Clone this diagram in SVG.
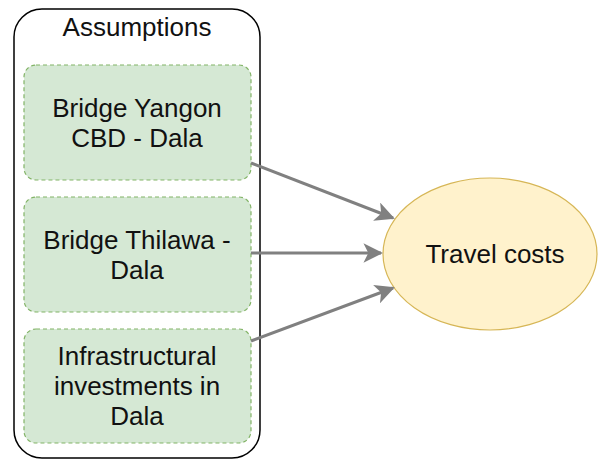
<svg xmlns="http://www.w3.org/2000/svg" width="598" height="460" viewBox="0 0 598 460">
<style>
text{font-family:"Liberation Sans",Arial,sans-serif;font-size:26px;fill:#111;text-anchor:middle}
.box{fill:#d5e8d4;stroke:#82b366;stroke-width:1.2;stroke-dasharray:4 3}
.edge{stroke:#808080;stroke-width:3;fill:none}
</style>
<defs>
<marker id="ah" viewBox="0 0 10 10" refX="9" refY="5" markerWidth="6.5" markerHeight="6.5" markerUnits="strokeWidth" orient="auto">
<path d="M0,0 L10,5 L0,10 L2.5,5 Z" fill="#808080"/>
</marker>
</defs>
<g id="assumptions">
<rect x="14" y="9" width="246" height="449" rx="28" fill="#fff" stroke="#000" stroke-width="1.5"/>
<text x="137" y="36">Assumptions</text>
</g>
<g id="bridge-yangon">
<rect class="box" x="24" y="65" width="227" height="115" rx="12"/>
<text x="137" y="117">Bridge Yangon</text>
<text x="137" y="147">CBD - Dala</text>
</g>
<g id="bridge-thilawa">
<rect class="box" x="24" y="197" width="227" height="115" rx="12"/>
<text x="137" y="249">Bridge Thilawa -</text>
<text x="137" y="279">Dala</text>
</g>
<g id="infrastructural">
<rect class="box" x="24" y="329" width="227" height="114" rx="12"/>
<text x="137" y="365">Infrastructural</text>
<text x="137" y="395">investments in</text>
<text x="137" y="425">Dala</text>
</g>
<g id="travel-costs">
<ellipse cx="490" cy="254" rx="107" ry="76" fill="#fff2cc" stroke="#d6b656" stroke-width="1.2"/>
<text x="495" y="263">Travel costs</text>
</g>
<g id="connectors">
<line class="edge" x1="251" y1="163" x2="393" y2="218" marker-end="url(#ah)"/>
<line class="edge" x1="251" y1="253" x2="381" y2="253" marker-end="url(#ah)"/>
<line class="edge" x1="251" y1="341" x2="393" y2="288" marker-end="url(#ah)"/>
</g>
</svg>
